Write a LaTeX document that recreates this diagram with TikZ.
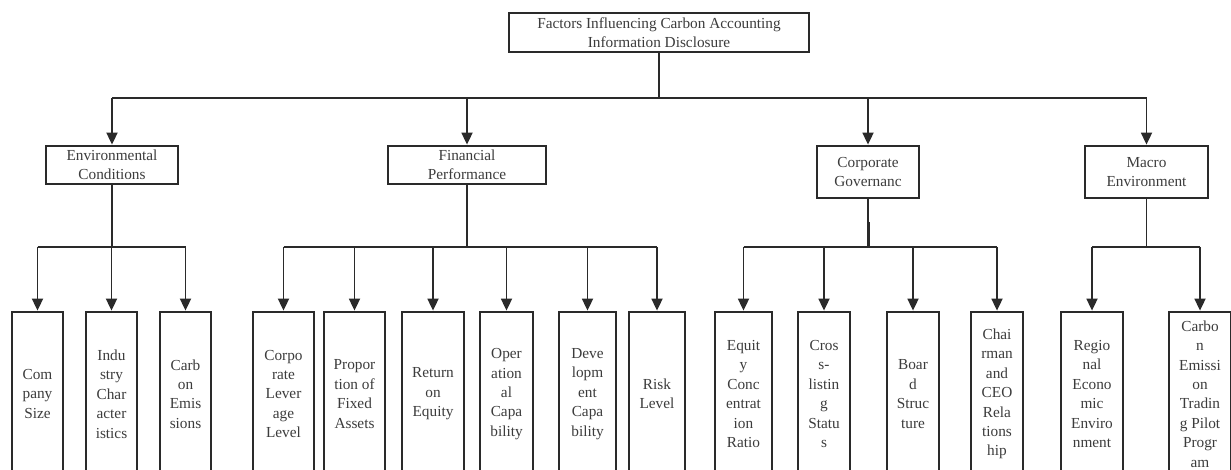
\documentclass[tikz,border=0pt]{standalone}
\usepackage{fontspec}
\setmainfont{Liberation Serif}
\usetikzlibrary{arrows.meta}
\definecolor{linecol}{HTML}{2A2A2A}
\definecolor{txtcol}{HTML}{3C3C3C}
\tikzset{
  box/.style={draw=linecol, line width=1.8pt, fill=white, inner sep=0pt, align=center,
    text=txtcol, font=\fontsize{15.3}{19.4}\selectfont},
  topbox/.style={box, minimum width=300pt, minimum height=39pt},
  catbox/.style={box, minimum height=38pt},
  leafbox/.style={box, minimum height=164pt},
  conn/.style={draw=linecol, line width=1.8pt},
  arr/.style={conn, -{Triangle[width=11pt,length=12pt]}, shorten >=0.5pt},
}
\begin{document}
\begin{tikzpicture}[x=1pt,y=-1pt]
\useasboundingbox (0,0) rectangle (1231,470);
\fill[white] (0,0) rectangle (1231,470);

% top
\node[topbox] (top) at (659,32.5) {Factors Influencing Carbon Accounting\\Information Disclosure};

% categories
\node[catbox, minimum width=132pt] (env) at (112,165) {Environmental\\Conditions};
\node[catbox, minimum width=158pt] (fin) at (467,165) {Financial\\Performance};
\node[catbox, minimum width=102pt, minimum height=52pt] (cg) at (868,172) {Corporate\\Governanc};
\node[catbox, minimum width=123pt, minimum height=52pt] (mac) at (1146.5,172) {Macro\\Environment};

% leaves
\node[leafbox, minimum width=51pt] (e1) at (37.5,394) {Com\\pany\\Size};
\node[leafbox, minimum width=51pt] (e2) at (111.5,394) {Indu\\stry\\Char\\acter\\istics};
\node[leafbox, minimum width=51pt] (e3) at (185.5,394) {Carb\\on\\Emis\\sions};

\node[leafbox, minimum width=61pt] (f1) at (283.5,394) {Corpo\\rate\\Lever\\age\\Level};
\node[leafbox, minimum width=61pt] (f2) at (354.5,394) {Propor\\tion of\\Fixed\\Assets};
\node[leafbox, minimum width=62pt] (f3) at (433,394) {Return\\on\\Equity};
\node[leafbox, minimum width=53pt] (f4) at (506.5,394) {Oper\\ation\\al\\Capa\\bility};
\node[leafbox, minimum width=57pt] (f5) at (587.5,394) {Deve\\lopm\\ent\\Capa\\bility};
\node[leafbox, minimum width=56pt] (f6) at (657,394) {Risk\\Level};

\node[leafbox, minimum width=57pt] (g1) at (743.5,394) {Equit\\y\\Conc\\entrat\\ion\\Ratio};
\node[leafbox, minimum width=52pt] (g2) at (824,394) {Cros\\s-\\listin\\g\\Statu\\s};
\node[leafbox, minimum width=52pt] (g3) at (913,394) {Boar\\d\\Struc\\ture};
\node[leafbox, minimum width=52pt] (g4) at (997,394) {Chai\\rman\\and\\CEO\\Rela\\tions\\hip};

\node[leafbox, minimum width=62pt] (m1) at (1092,394) {Regio\\nal\\Econo\\mic\\Enviro\\nment};
\node[leafbox, minimum width=62pt] (m2) at (1200,394) {Carbo\\n\\Emissi\\on\\Tradin\\g Pilot\\Progr\\am};

% bus coordinates
\coordinate (bus0) at (659,98);
\coordinate (bus1) at (0,247);
\coordinate (cgthick) at (0,222);

% top level connectors
\draw[conn] (top.south) -- (bus0);
\draw[conn] (env.north |- bus0) -- (mac.north |- bus0);
\foreach \n in {env,fin,cg,mac} \draw[arr] (\n.north |- bus0) -- (\n.north);

% environmental
\draw[conn] (env.south) -- (env.south |- bus1);
\draw[conn] (e1.north |- bus1) -- (e3.north |- bus1);
\foreach \n in {e1,e2,e3} \draw[arr] (\n.north |- bus1) -- (\n.north);

% financial
\draw[conn] (fin.south) -- (fin.south |- bus1);
\draw[conn] (f1.north |- bus1) -- (f6.north |- bus1);
\foreach \n in {f1,f2,f3,f4,f5,f6} \draw[arr] (\n.north |- bus1) -- (\n.north);

% governance
\draw[conn] (cg.south) -- (cg.south |- bus1);
\draw[conn, line width=1.4pt] ([xshift=1.2pt]cg.south |- cgthick) -- ([xshift=1.2pt]cg.south |- bus1);
\draw[conn] (g1.north |- bus1) -- (g4.north |- bus1);
\foreach \n in {g1,g2,g3,g4} \draw[arr] (\n.north |- bus1) -- (\n.north);

% macro
\draw[conn] (mac.south) -- (mac.south |- bus1);
\draw[conn] (m1.north |- bus1) -- (m2.north |- bus1);
\foreach \n in {m1,m2} \draw[arr] (\n.north |- bus1) -- (\n.north);
\end{tikzpicture}
\end{document}
